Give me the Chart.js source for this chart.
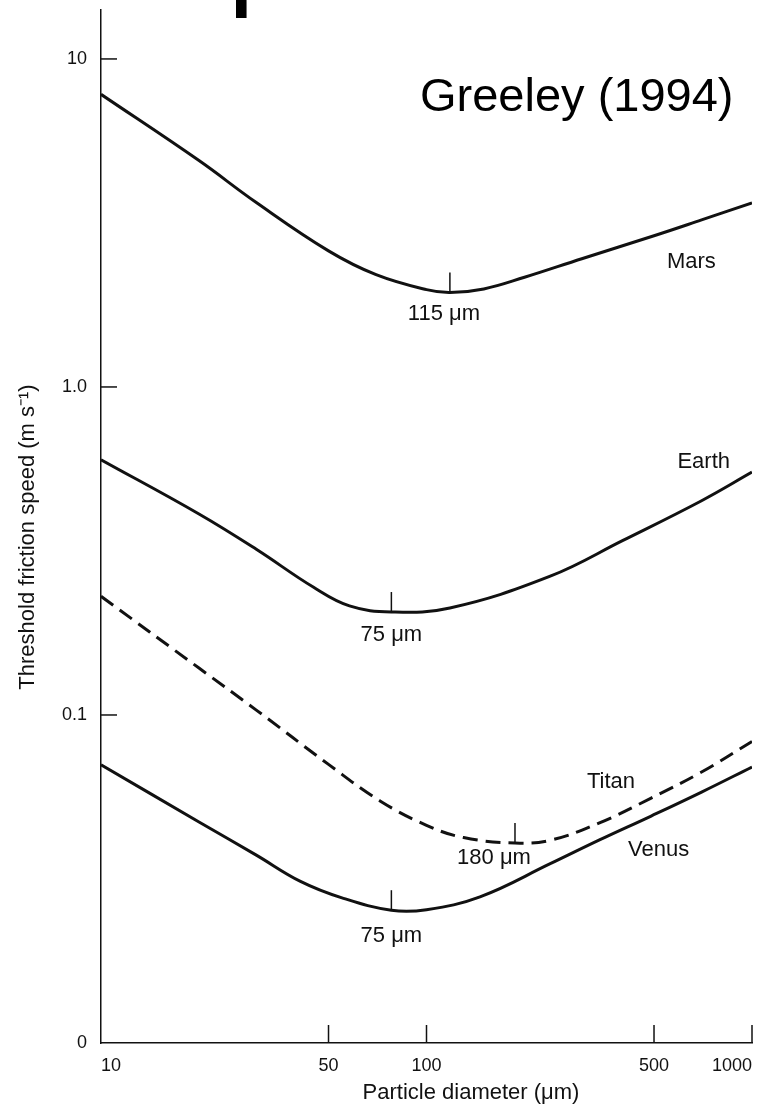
<!DOCTYPE html>
<html>
<head>
<meta charset="utf-8">
<script src="https://cdn.jsdelivr.net/npm/chart.js@4.4.1/dist/chart.umd.min.js"></script>
<style>
  html, body { margin: 0; padding: 0; background: #fff; }
  #wrap { position: relative; width: 769px; height: 1107px; overflow: hidden; }
  #cut { position: absolute; left: 236px; top: 0; width: 11px; height: 19px; overflow: hidden; }
  #cut span { position: absolute; left: -6px; top: -71px; font: bold 80px "Liberation Sans", Arial, sans-serif; line-height: 89px; color: #000; }
  canvas { position: absolute; left: 0; top: 0; }
</style>
</head>
<body>
<div id="wrap">
  <canvas id="chart" width="769" height="1107"></canvas>
  <div id="cut"><span>p</span></div>
</div>
<script>
// particle diameter (um) and threshold friction speed (m/s) per body
const marsD  = [10, 20, 30, 50, 70, 100, 118, 150, 200, 300, 500, 700, 1000];
const marsV  = [7.8, 4.9, 3.65, 2.6, 2.2, 1.98, 1.94, 1.99, 2.16, 2.46, 2.89, 3.23, 3.64];
const earthD = [10, 20, 30, 45, 58, 78, 118, 240, 400, 700, 1000];
const earthV = [0.6, 0.41, 0.32, 0.245, 0.215, 0.206, 0.212, 0.265, 0.34, 0.45, 0.55];
const titanD = [10, 20, 30, 50, 72, 100, 130, 187, 240, 340, 490, 700, 1000];
const titanV = [0.23, 0.139, 0.1035, 0.0707, 0.0547, 0.0461, 0.0423, 0.0407, 0.0415, 0.0469, 0.0558, 0.067, 0.083];
const venusD = [10, 20, 30, 41, 55, 78, 100, 146, 240, 340, 490, 700, 1000];
const venusV = [0.0705, 0.0472, 0.0374, 0.0311, 0.0277, 0.0254, 0.0255, 0.0279, 0.0352, 0.0416, 0.0492, 0.0582, 0.0694];

const xTicks = [10, 50, 100, 500, 1000];
const yTicks = [0.01, 0.1, 1, 10];
const yTickLabels = { 0.01: '0', 0.1: '0.1', 1: '1.0', 10: '10' };

// minimum markers: [diameter, speed, label]
const minima = [
    [118, 1.94, '115 \u03bcm'],
    [78, 0.206, '75 \u03bcm'],
    [187, 0.0407, '180 \u03bcm'],
    [78, 0.0254, '75 \u03bcm']
];
// label offsets from the marker, px: [dx, dy]
const minimaShift = [[-6, 10], [0, 12], [-21, 4], [0, 15]];

// curve names: [diameter, speed, text]
const names = [
    [548, 2.4, 'Mars'],
    [590, 0.59, 'Earth'],
    [311, 0.0625, 'Titan'],
    [416, 0.0387, 'Venus']
];

const INK = '#111';
const FONT = '"Liberation Sans", Arial, sans-serif';

function pts(d, v) {
    return d.map((x, i) => ({ x: x, y: v[i] }));
}

function lineSet(label, d, v, dash) {
    return {
        label: label,
        data: pts(d, v),
        borderColor: INK,
        borderWidth: 3,
        borderDash: dash || [],
        pointRadius: 0,
        fill: false,
        tension: 0.4
    };
}

const decor = {
    id: 'decor',
    afterDraw(chart) {
        const ctx = chart.ctx;
        const xs = chart.scales.x, ys = chart.scales.y;
        const area = chart.chartArea;
        ctx.save();
        ctx.strokeStyle = INK;
        ctx.lineWidth = 1.5;
        // inward ticks
        yTicks.slice(1).forEach(v => {
            const py = ys.getPixelForValue(v);
            ctx.beginPath();
            ctx.moveTo(area.left, py);
            ctx.lineTo(area.left + 16, py);
            ctx.stroke();
        });
        xTicks.slice(1).forEach(v => {
            const px = xs.getPixelForValue(v);
            ctx.beginPath();
            ctx.moveTo(px, area.bottom);
            ctx.lineTo(px, area.bottom - 18);
            ctx.stroke();
        });
        // minimum markers
        ctx.fillStyle = INK;
        ctx.font = '22px ' + FONT;
        ctx.textAlign = 'center';
        ctx.textBaseline = 'top';
        minima.forEach((m, i) => {
            const px = xs.getPixelForValue(m[0]);
            const py = ys.getPixelForValue(m[1]);
            ctx.beginPath();
            ctx.moveTo(px, py);
            ctx.lineTo(px, py - 20);
            ctx.stroke();
            ctx.fillText(m[2], px + minimaShift[i][0], py + minimaShift[i][1]);
        });
        // curve names
        ctx.textAlign = 'left';
        ctx.textBaseline = 'middle';
        names.forEach(n => {
            ctx.fillText(n[2], xs.getPixelForValue(n[0]), ys.getPixelForValue(n[1]));
        });
        // source credit
        ctx.font = '47px ' + FONT;
        ctx.fillStyle = '#000';
        ctx.fillText('Greeley (1994)', 420, 98);
        // axis titles
        ctx.font = '22px ' + FONT;
        ctx.fillStyle = INK;
        ctx.textAlign = 'center';
        ctx.fillText('Particle diameter (\u03bcm)', 471, 1093);
        ctx.translate(28, 537);
        ctx.rotate(-Math.PI / 2);
        ctx.fillText('Threshold friction speed (m s\u207b\u00b9)', 0, 0);
        ctx.restore();
    }
};

new Chart(document.getElementById('chart').getContext('2d'), {
    type: 'line',
    data: {
        datasets: [
            lineSet('Mars', marsD, marsV),
            lineSet('Earth', earthD, earthV),
            lineSet('Titan', titanD, titanV, [15, 8]),
            lineSet('Venus', venusD, venusV)
        ]
    },
    options: {
        responsive: false,
        animation: false,
        layout: { padding: { top: 10, right: 17, left: 0, bottom: 0 } },
        plugins: { legend: { display: false }, tooltip: { enabled: false } },
        scales: {
            x: {
                type: 'logarithmic',
                min: 10,
                max: 1000,
                afterBuildTicks: (s) => { s.ticks = xTicks.map(v => ({ value: v })); },
                afterFit: (s) => { s.height = 64; s.paddingLeft = 0; s.paddingRight = 0; },
                grid: { display: false, drawTicks: false },
                border: { display: true, color: INK, width: 1.5 },
                ticks: {
                    color: INK,
                    font: { size: 18, family: FONT },
                    padding: 12,
                    align: 'inner',
                    maxRotation: 0,
                    autoSkip: false,
                    callback: (v) => String(v)
                }
            },
            y: {
                type: 'logarithmic',
                min: 0.01,
                max: 14.1,
                afterBuildTicks: (s) => { s.ticks = yTicks.map(v => ({ value: v })); },
                afterFit: (s) => { s.width = 101; s.paddingTop = 0; s.paddingBottom = 0; },
                grid: { display: false, drawTicks: false },
                border: { display: true, color: INK, width: 1.5 },
                ticks: {
                    color: INK,
                    font: { size: 18, family: FONT },
                    padding: 14,
                    autoSkip: false,
                    callback: (v) => yTickLabels[v] || ''
                }
            }
        }
    },
    plugins: [decor]
});
</script>
</body>
</html>
